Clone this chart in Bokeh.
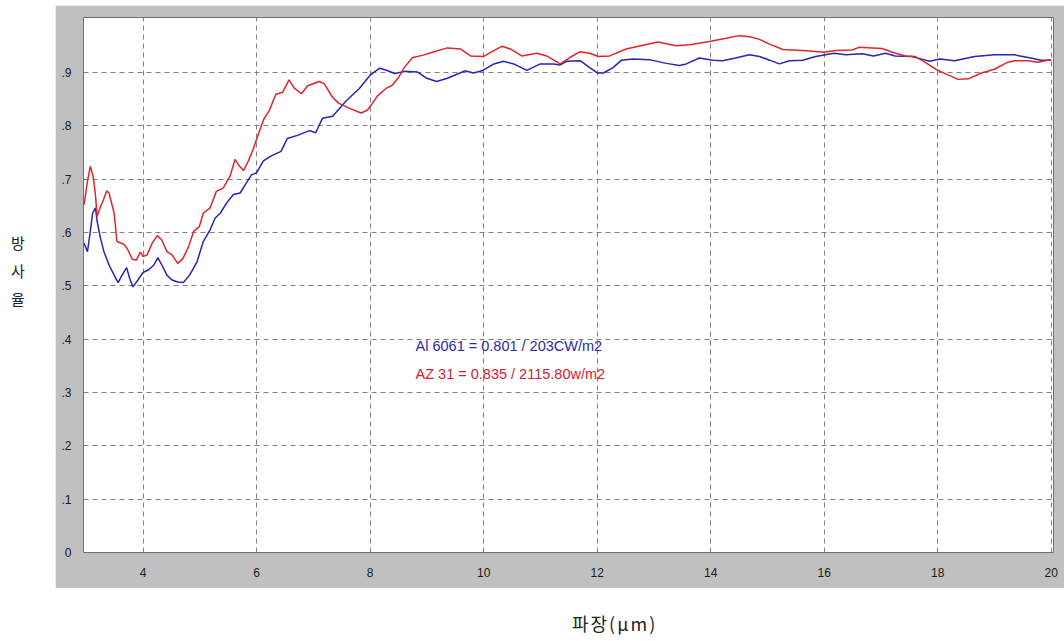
from bokeh.plotting import figure
from bokeh.models import Range1d, FixedTicker, CustomJSTickFormatter, Label, Div
from bokeh.layouts import row, column
from bokeh.embed import file_html
from bokeh.resources import INLINE

# Al 6061 (blue) emissivity vs wavelength (um)
wavelength_al = [2.96, 3.02, 3.07, 3.11, 3.16, 3.19, 3.25, 3.31, 3.40, 3.49, 3.56, 3.63, 3.71, 3.76,
                 3.82, 3.89, 4.00, 4.10, 4.19, 4.26, 4.33, 4.42, 4.51, 4.61, 4.71, 4.82, 4.95, 5.06,
                 5.18, 5.27, 5.36, 5.47, 5.59, 5.71, 5.82, 5.91, 6.00, 6.12, 6.25, 6.43, 6.54, 6.72,
                 6.93, 7.04, 7.16, 7.34, 7.58, 7.81, 8.01, 8.17, 8.29, 8.43, 8.61, 8.83, 9.00, 9.17,
                 9.36, 9.54, 9.67, 9.82, 9.97, 10.18, 10.35, 10.53, 10.76, 11.00, 11.23, 11.35, 11.46,
                 11.70, 11.87, 12.00, 12.11, 12.28, 12.43, 12.63, 12.92, 13.22, 13.45, 13.57, 13.80,
                 14.04, 14.21, 14.44, 14.68, 14.86, 15.04, 15.21, 15.39, 15.62, 15.85, 16.17, 16.38,
                 16.67, 16.87, 17.08, 17.25, 17.54, 17.72, 17.86, 18.04, 18.30, 18.65, 19.00, 19.35,
                 19.64, 19.82, 20.00]
emissivity_al = [0.580, 0.564, 0.602, 0.636, 0.646, 0.621, 0.589, 0.564, 0.539, 0.520, 0.506, 0.520,
                 0.534, 0.515, 0.498, 0.508, 0.525, 0.530, 0.539, 0.553, 0.539, 0.520, 0.511, 0.507,
                 0.506, 0.520, 0.545, 0.583, 0.605, 0.627, 0.636, 0.655, 0.671, 0.674, 0.693, 0.708,
                 0.712, 0.734, 0.743, 0.752, 0.776, 0.782, 0.791, 0.787, 0.814, 0.818, 0.847, 0.870,
                 0.896, 0.908, 0.904, 0.898, 0.902, 0.901, 0.889, 0.883, 0.889, 0.897, 0.903, 0.899,
                 0.903, 0.916, 0.921, 0.916, 0.904, 0.916, 0.916, 0.914, 0.921, 0.922, 0.909, 0.899,
                 0.899, 0.909, 0.923, 0.925, 0.924, 0.917, 0.913, 0.916, 0.927, 0.923, 0.922, 0.927,
                 0.933, 0.930, 0.923, 0.916, 0.922, 0.923, 0.930, 0.936, 0.933, 0.935, 0.931, 0.936,
                 0.931, 0.930, 0.925, 0.921, 0.925, 0.922, 0.930, 0.933, 0.933, 0.927, 0.923, 0.923]

# AZ 31 (red) emissivity vs wavelength (um)
wavelength_az = [2.96, 3.02, 3.07, 3.12, 3.16, 3.19, 3.24, 3.30, 3.36, 3.40, 3.49, 3.54, 3.66, 3.72,
                 3.81, 3.88, 3.95, 4.00, 4.07, 4.16, 4.25, 4.33, 4.42, 4.51, 4.61, 4.70, 4.80, 4.89,
                 4.99, 5.06, 5.18, 5.29, 5.41, 5.53, 5.62, 5.70, 5.77, 5.85, 5.94, 6.03, 6.13, 6.22,
                 6.34, 6.46, 6.57, 6.66, 6.79, 6.90, 7.10, 7.19, 7.34, 7.45, 7.63, 7.84, 7.95, 8.04,
                 8.13, 8.28, 8.39, 8.51, 8.60, 8.75, 8.92, 9.10, 9.36, 9.59, 9.77, 10.00, 10.18, 10.32,
                 10.47, 10.67, 10.94, 11.11, 11.35, 11.52, 11.70, 11.87, 12.02, 12.22, 12.51, 12.81,
                 13.07, 13.39, 13.63, 13.98, 14.27, 14.50, 14.69, 14.86, 15.04, 15.27, 15.62, 16.00,
                 16.20, 16.50, 16.61, 17.02, 17.20, 17.43, 17.60, 17.78, 18.00, 18.19, 18.36, 18.54,
                 18.77, 19.00, 19.21, 19.35, 19.59, 19.76, 19.94, 20.00]
emissivity_az = [0.652, 0.696, 0.724, 0.705, 0.671, 0.630, 0.646, 0.661, 0.678, 0.674, 0.636, 0.583,
                 0.578, 0.570, 0.550, 0.548, 0.563, 0.555, 0.558, 0.580, 0.594, 0.586, 0.564, 0.558,
                 0.542, 0.551, 0.573, 0.602, 0.611, 0.636, 0.646, 0.677, 0.683, 0.705, 0.737, 0.724,
                 0.716, 0.733, 0.756, 0.784, 0.813, 0.828, 0.859, 0.863, 0.886, 0.871, 0.860, 0.875,
                 0.883, 0.879, 0.853, 0.842, 0.833, 0.824, 0.829, 0.842, 0.856, 0.870, 0.876, 0.892,
                 0.909, 0.928, 0.932, 0.938, 0.946, 0.944, 0.931, 0.930, 0.941, 0.949, 0.944, 0.931,
                 0.936, 0.931, 0.916, 0.928, 0.939, 0.936, 0.930, 0.931, 0.944, 0.951, 0.957, 0.950,
                 0.952, 0.958, 0.964, 0.969, 0.967, 0.962, 0.953, 0.943, 0.941, 0.938, 0.941, 0.942,
                 0.947, 0.945, 0.938, 0.931, 0.930, 0.919, 0.904, 0.895, 0.887, 0.888, 0.899, 0.906,
                 0.918, 0.922, 0.922, 0.919, 0.923, 0.924]

x_ticks = [4, 6, 8, 10, 12, 14, 16, 18, 20]
y_ticks = [0, 0.1, 0.2, 0.3, 0.4, 0.5, 0.6, 0.7, 0.8, 0.9]
label_al = "Al 6061 = 0.801 /  203CW/m2"
label_az = "AZ 31 = 0.835 / 2115.80w/m2"
y_title = ["방", "사", "율"]
x_title = "파장(μm)"

BLUE = "#2626b2"
RED = "#e0242c"

p = figure(width=1009, height=583,
           x_range=Range1d(2.95, 20.04), y_range=Range1d(0, 1.003),
           output_backend="svg", toolbar_location=None,
           min_border_left=28, min_border_right=11, min_border_top=12, min_border_bottom=36,
           border_fill_color="#c0c0c0", background_fill_color="white",
           outline_line_color="#707070", outline_line_width=1)

p.line(wavelength_al, emissivity_al, line_color=BLUE, line_width=1.5)
p.line(wavelength_az, emissivity_az, line_color=RED, line_width=1.5)

p.xaxis.ticker = FixedTicker(ticks=x_ticks)
p.yaxis.ticker = FixedTicker(ticks=y_ticks)
p.yaxis.formatter = CustomJSTickFormatter(
    code="return tick < 1e-9 ? '0' : tick.toFixed(1).replace(/^0/, '');")

for ax in (p.xaxis[0], p.yaxis[0]):
    ax.axis_line_color = None
    ax.major_tick_line_color = None
    ax.minor_tick_line_color = None
    ax.major_label_text_font = "Liberation Sans"
    ax.major_label_text_font_size = "12px"
    ax.major_label_text_color = "#1a1a1a"
p.yaxis.major_label_standoff = 6
p.xaxis.major_label_standoff = 9

p.xgrid.ticker = FixedTicker(ticks=x_ticks)
p.ygrid.ticker = FixedTicker(ticks=y_ticks)
for g in (p.xgrid[0], p.ygrid[0]):
    g.grid_line_color = "#808080"
    g.grid_line_dash = "5 4"
    g.grid_line_width = 1

p.add_layout(Label(x=8.80, y=0.387, text=label_al, text_color="#2a2aa8",
                   text_font="Liberation Sans", text_font_size="14.5px", text_baseline="middle"))
p.add_layout(Label(x=8.80, y=0.335, text=label_az, text_color="#d42030",
                   text_font="Liberation Sans", text_font_size="14.5px", text_baseline="middle"))

top_pad = Div(text="", width=1064, height=5, margin=(0, 0, 0, 0))
ylab = Div(text='<div style="font-family:\'Noto Sans CJK KR\';font-size:15px;line-height:28px;'
                'color:#222;padding-top:224px;padding-left:11px;">' + "<br>".join(y_title) + '</div>',
           width=55, height=583, margin=(0, 0, 0, 0))
xlab = Div(text='<div style="font-family:\'Noto Sans CJK KR\';font-size:18px;line-height:20px;'
                'letter-spacing:2px;color:#222;padding-top:25px;padding-left:572px;'
                'white-space:nowrap;">' + x_title + '</div>',
           width=1064, height=45, margin=(0, 0, 0, 0))

layout = column(top_pad, row(ylab, p, spacing=0), xlab, spacing=0)

open("out.html", "w").write(file_html(layout, INLINE))
